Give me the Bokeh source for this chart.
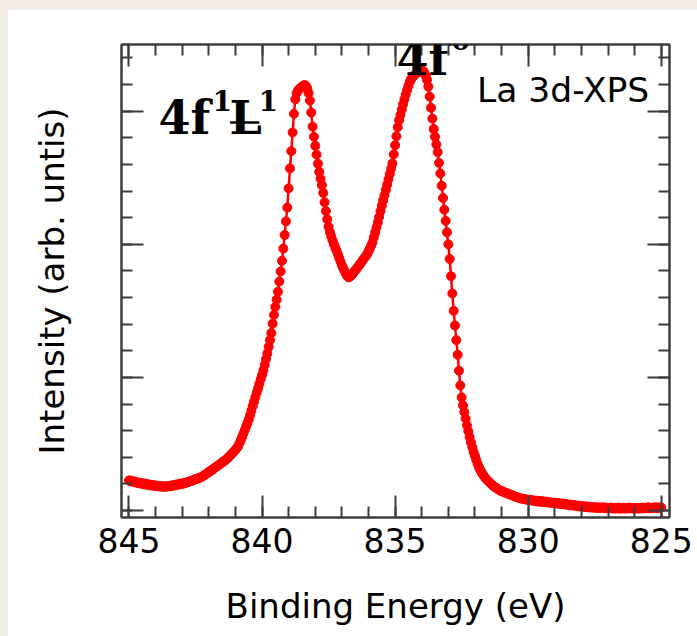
from bokeh.plotting import figure
from bokeh.models import Range1d, LinearAxis, Label, FixedTicker, ColumnDataSource
from bokeh.embed import file_html
from bokeh.resources import INLINE

# ---------------- data ----------------
E_START = 845.0   # eV, first sample
E_STEP = 0.05     # eV, sample spacing (decreasing binding energy)

intensity = [
    # 845.00 .. 844.00
    1.13, 1.10, 1.12, 1.08, 1.09, 1.05, 1.06, 1.03, 1.05, 1.01, 1.02, 0.99, 1.01, 0.97, 0.99, 0.95, 0.97, 0.94, 0.96, 0.92, 0.94,
    # 843.95 .. 843.00
    0.92, 0.93, 0.90, 0.92, 0.89, 0.91, 0.89, 0.91, 0.90, 0.92, 0.91, 0.94, 0.93, 0.96, 0.95, 0.98, 0.97, 1.00, 0.99, 1.02,
    # 842.95 .. 842.00
    1.01, 1.04, 1.04, 1.07, 1.08, 1.10, 1.11, 1.14, 1.15, 1.18, 1.18, 1.21, 1.22, 1.25, 1.27, 1.31, 1.33, 1.38, 1.40, 1.45,
    # 841.95 .. 841.00
    1.47, 1.52, 1.54, 1.59, 1.62, 1.66, 1.69, 1.73, 1.76, 1.81, 1.83, 1.88, 1.91, 1.96, 2.00, 2.06, 2.11, 2.17, 2.22, 2.28,
    # 840.95 .. 840.00
    2.34, 2.41, 2.52, 2.64, 2.76, 2.89, 3.02, 3.15, 3.28, 3.41, 3.58, 3.75, 3.92, 4.09, 4.26, 4.43, 4.59, 4.76, 4.93, 5.09,
    # 839.95 .. 839.00
    5.26, 5.47, 5.69, 5.90, 6.15, 6.40, 6.67, 7.02, 7.35, 7.65, 7.92, 8.22, 8.60, 8.98, 9.38, 9.84, 10.35, 10.86, 11.38, 12.10,
    # 838.95 .. 838.00
    12.85, 13.50, 14.20, 14.90, 15.45, 15.68, 15.78, 15.84, 15.88, 15.92, 15.96, 15.98, 15.95, 15.86, 15.68, 15.40, 14.95, 14.42, 14.04, 13.70,
    # 837.95 .. 837.00
    13.37, 13.03, 12.72, 12.46, 12.22, 11.93, 11.58, 11.25, 10.94, 10.66, 10.46, 10.30, 10.15, 10.01, 9.88, 9.76, 9.63, 9.49, 9.35, 9.21,
    # 836.95 .. 836.00
    9.10, 9.00, 8.90, 8.81, 8.76, 8.78, 8.82, 8.88, 8.95, 9.02, 9.08, 9.15, 9.21, 9.28, 9.35, 9.42, 9.49, 9.56, 9.63, 9.73,
    # 835.95 .. 835.00
    9.84, 9.95, 10.07, 10.26, 10.44, 10.63, 10.82, 11.03, 11.24, 11.45, 11.65, 11.84, 12.04, 12.24, 12.44, 12.64, 12.84, 13.04, 13.38, 13.72,
    # 834.95 .. 834.00
    14.06, 14.40, 14.66, 14.86, 15.06, 15.26, 15.45, 15.62, 15.79, 15.95, 16.10, 16.20, 16.27, 16.33, 16.38, 16.43, 16.46, 16.49, 16.51, 16.53,
    # 833.95 .. 833.00
    16.52, 16.45, 16.33, 16.18, 15.92, 15.55, 15.13, 14.72, 14.33, 14.04, 13.75, 13.46, 13.06, 12.66, 12.20, 11.74, 11.30, 10.88, 10.45, 10.00,
    # 832.95 .. 832.00
    9.45, 8.80, 8.15, 7.50, 6.95, 6.40, 5.85, 5.25, 4.70, 4.25, 3.95, 3.70, 3.45, 3.20, 2.98, 2.76, 2.56, 2.38, 2.20, 2.05,
    # 831.95 .. 831.00
    1.90, 1.75, 1.63, 1.52, 1.43, 1.35, 1.28, 1.21, 1.15, 1.10, 1.05, 1.00, 0.96, 0.92, 0.88, 0.85, 0.81, 0.78, 0.75, 0.73,
    # 830.95 .. 830.00
    0.71, 0.69, 0.67, 0.65, 0.63, 0.61, 0.59, 0.57, 0.55, 0.53, 0.51, 0.49, 0.48, 0.46, 0.45, 0.44, 0.43, 0.42, 0.41, 0.40,
    # 829.95 .. 829.00
    0.39, 0.40, 0.37, 0.38, 0.35, 0.37, 0.34, 0.36, 0.33, 0.35, 0.32, 0.34, 0.31, 0.33, 0.30, 0.31, 0.29, 0.30, 0.28, 0.29,
    # 828.95 .. 828.00
    0.27, 0.28, 0.25, 0.27, 0.24, 0.26, 0.23, 0.24, 0.22, 0.23, 0.20, 0.22, 0.19, 0.21, 0.18, 0.19, 0.16, 0.18, 0.15, 0.17,
    # 827.95 .. 827.00
    0.14, 0.16, 0.13, 0.15, 0.12, 0.14, 0.11, 0.13, 0.11, 0.12, 0.10, 0.12, 0.09, 0.11, 0.10, 0.12, 0.09, 0.11, 0.08, 0.10,
    # 826.95 .. 826.00
    0.09, 0.11, 0.08, 0.10, 0.07, 0.10, 0.08, 0.11, 0.07, 0.09, 0.08, 0.10, 0.07, 0.09, 0.08, 0.11, 0.08, 0.10, 0.07, 0.09,
    # 825.95 .. 825.00
    0.08, 0.10, 0.07, 0.09, 0.08, 0.11, 0.08, 0.10, 0.09, 0.12, 0.08, 0.10, 0.09, 0.11, 0.10, 0.12, 0.09, 0.11, 0.10, 0.12,
]
energy = [round(E_START - E_STEP * i, 2) for i in range(len(intensity))]

x_major_ticks = [845, 840, 835, 830, 825]
x_minor_ticks = list(range(825, 846))
y_major_ticks = [0, 5, 10, 15]
y_minor_ticks = list(range(0, 18))

x_title = "Binding Energy (eV)"
y_title = "Intensity (arb. untis)"
panel_label = "La 3d-XPS"

# ---------------- figure ----------------
AX = "#3c3c3c"
PAPER = "#f1eee8"
SANS = "DejaVu Sans"
SERIF = "DejaVu Serif"

p = figure(width=685, height=620, output_backend="svg", toolbar_location=None,
           x_range=Range1d(845.28, 824.69), y_range=Range1d(-0.263, 17.506),
           x_axis_location=None, y_axis_location=None,
           min_border_left=113, min_border_right=24, min_border_top=34,
           min_border_bottom=113)
p.margin = (10, 0, 0, 8)
p.xgrid.visible = False
p.ygrid.visible = False
p.background_fill_color = "white"
p.border_fill_color = "white"
p.outline_line_color = AX
p.outline_line_width = 2

xt = FixedTicker(ticks=x_major_ticks, minor_ticks=x_minor_ticks)
yt = FixedTicker(ticks=y_major_ticks, minor_ticks=y_minor_ticks)

bottom = LinearAxis(ticker=xt)
top = LinearAxis(ticker=xt)
left = LinearAxis(ticker=yt)
right = LinearAxis(ticker=yt)
p.add_layout(bottom, "below")
p.add_layout(top, "above")
p.add_layout(left, "left")
p.add_layout(right, "right")

for ax in [bottom, top, left, right]:
    ax.major_tick_in = 22
    ax.major_tick_out = 0
    ax.minor_tick_in = 11
    ax.minor_tick_out = 0
    ax.axis_line_color = AX
    ax.axis_line_width = 2
    ax.major_tick_line_color = AX
    ax.major_tick_line_width = 2
    ax.minor_tick_line_color = AX
    ax.minor_tick_line_width = 2

top.major_label_overrides = {t: "" for t in x_major_ticks}
for ax in [left, right]:
    ax.major_label_overrides = {t: "" for t in y_major_ticks}

bottom.major_label_text_font = SANS
bottom.major_label_text_font_size = "33px"
bottom.major_label_text_color = "black"
bottom.major_label_standoff = 10
bottom.axis_label = x_title
bottom.axis_label_text_font = SANS
bottom.axis_label_text_font_size = "34px"
bottom.axis_label_text_font_style = "normal"
bottom.axis_label_text_color = "black"
bottom.axis_label_standoff = 30

left.axis_label = y_title
left.axis_label_text_font = SANS
left.axis_label_text_font_size = "34px"
left.axis_label_text_font_style = "normal"
left.axis_label_text_color = "black"
left.axis_label_standoff = 50

src = ColumnDataSource(data=dict(energy=energy, intensity=intensity))
p.line("energy", "intensity", source=src, line_color="red", line_width=2.5)
p.scatter("energy", "intensity", source=src, size=9, fill_color="red",
          line_color="red", line_width=1)

# ---------------- annotations ----------------
p.add_layout(Label(x=825.45, y=15.80, text=panel_label, text_font=SANS,
                   text_font_size="34.5px", text_align="right",
                   text_baseline="middle", text_color="black"))

BIG = "46px"
SUP = "28px"
# 4f^0
p.add_layout(Label(x=834.95, y=16.98, text="4f", text_font=SERIF, text_font_size=BIG,
                   text_font_style="bold", text_baseline="alphabetic", text_color="black"))
p.add_layout(Label(x=832.90, y=17.70, text="0", text_font=SERIF, text_font_size=SUP,
                   text_font_style="bold", text_baseline="alphabetic", text_color="black"))
# 4f^1 L^1 (L underlined)
p.add_layout(Label(x=843.89, y=14.76, text="4f", text_font=SERIF, text_font_size=BIG,
                   text_font_style="bold", text_baseline="alphabetic", text_color="black"))
p.add_layout(Label(x=841.86, y=15.40, text="1", text_font=SERIF, text_font_size=SUP,
                   text_font_style="bold", text_baseline="alphabetic", text_color="black"))
p.add_layout(Label(x=841.22, y=14.76, text="L", text_font=SERIF, text_font_size=BIG,
                   text_font_style="bold", text_baseline="alphabetic", text_color="black"))
p.add_layout(Label(x=840.13, y=15.40, text="1", text_font=SERIF, text_font_size=SUP,
                   text_font_style="bold", text_baseline="alphabetic", text_color="black"))
underline_x = [841.20, 840.10]
underline_y = 14.58
p.segment(x0=[underline_x[0]], y0=[underline_y], x1=[underline_x[1]], y1=[underline_y],
          line_color="black", line_width=2.5)

html = file_html(p, INLINE)
page_css = (
    "<style>html, body { overflow: hidden; background: "
    "linear-gradient(%s, %s) left top / 100%% 10px no-repeat, "
    "linear-gradient(%s, %s) left top / 8px 100%% no-repeat, #ffffff !important; }</style>\n</head>"
) % (PAPER, PAPER, PAPER, PAPER)
html = html.replace("</head>", page_css, 1)
open("out.html", "w").write(html)
